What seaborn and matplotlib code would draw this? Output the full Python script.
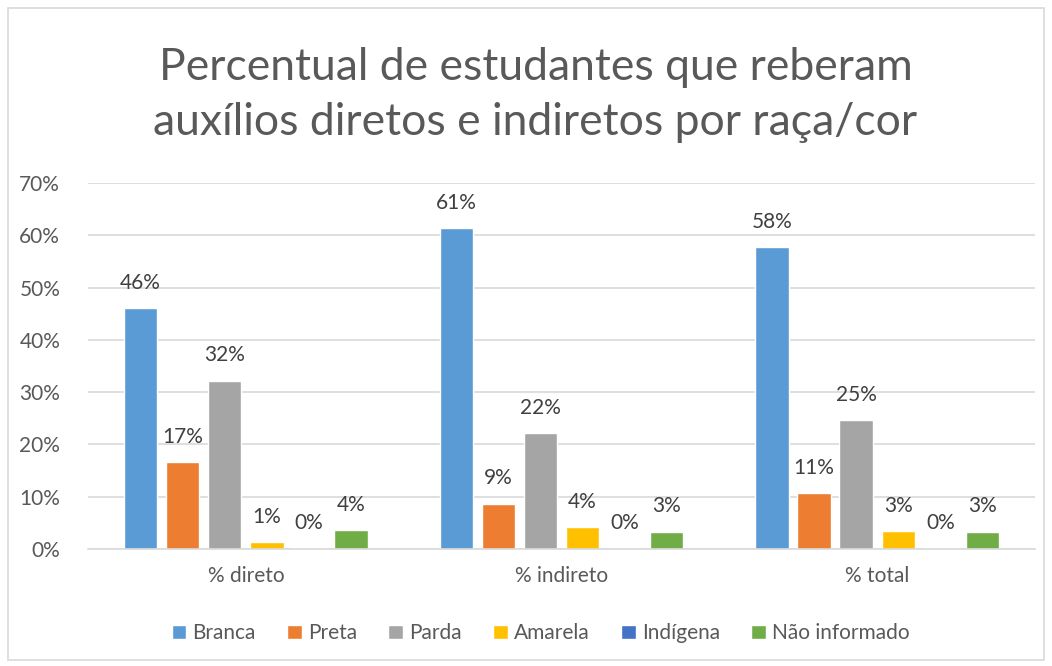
import matplotlib
matplotlib.use("Agg")
import matplotlib.pyplot as plt
import seaborn as sns
import pandas as pd
from matplotlib.patches import Rectangle
from matplotlib.ticker import FuncFormatter

categories = ["% direto", "% indireto", "% total"]
series = ["Branca", "Preta", "Parda", "Amarela", "Indígena", "Não informado"]
branca = [0.460, 0.614, 0.577]
preta = [0.166, 0.087, 0.107]
parda = [0.322, 0.222, 0.247]
amarela = [0.013, 0.042, 0.034]
indigena = [0.002, 0.001, 0.002]
nao_informado = [0.036, 0.033, 0.033]
colors = ["#5B9BD5", "#ED7D31", "#A5A5A5", "#FFC000", "#4472C4", "#70AD47"]
title = "Percentual de estudantes que reberam\nauxílios diretos e indiretos por raça/cor"

values = [branca, preta, parda, amarela, indigena, nao_informado]
rows = []
for s, vals in zip(series, values):
    for c, v in zip(categories, vals):
        rows.append({"grupo": c, "raca": s, "valor": v})
df = pd.DataFrame(rows)

sns.set_style("white")
plt.rcParams["font.family"] = ["Lato", "DejaVu Sans"]

fig = plt.figure(figsize=(10.52, 6.66), dpi=100)
ax = fig.add_axes([88 / 1052, 117 / 666, 947 / 1052, 366 / 666])

sns.barplot(data=df, x="grupo", y="valor", hue="raca", order=categories,
            hue_order=series, palette=colors, width=0.8, gap=0.21,
            saturation=1, ax=ax, legend=True)

for cont, vals in zip(ax.containers, values):
    ax.bar_label(cont, labels=[f"{v * 100:.0f}%" for v in vals], padding=11,
                 fontsize=15, color="#404040")

ax.set_ylim(0, 0.7)
ax.set_yticks([i / 10 for i in range(8)])
ax.yaxis.set_major_formatter(FuncFormatter(lambda v, p: f"{v * 100:.0f}%"))
ax.grid(axis="y", color="#D9D9D9", linewidth=1.2)
ax.set_axisbelow(True)
for sp in ["top", "right", "left"]:
    ax.spines[sp].set_visible(False)
ax.spines["bottom"].set_color("#D9D9D9")
ax.spines["bottom"].set_linewidth(1.2)
ax.tick_params(axis="both", length=0, labelsize=15, colors="#595959")
ax.tick_params(axis="y", pad=20)
ax.tick_params(axis="x", pad=12)
ax.set_xlabel("")
ax.set_ylabel("")

fig.text(0.509, 0.857, title, ha="center", va="center", fontsize=32,
         color="#595959", linespacing=1.42)

handles, labels = ax.get_legend_handles_labels()
ax.get_legend().remove()
fig.legend(handles, labels, loc="center", bbox_to_anchor=(0.514, 0.049),
           ncol=6, frameon=False, fontsize=15, handlelength=0.7,
           handleheight=0.7, handletextpad=0.3, columnspacing=1.5,
           labelcolor="#595959")

fig.patches.append(Rectangle((8 / 1052, 6 / 666), 1036 / 1052, 652 / 666,
                             transform=fig.transFigure, fill=False,
                             edgecolor="#D9D9D9", linewidth=1.2))

fig.savefig("out.png", dpi=100)
